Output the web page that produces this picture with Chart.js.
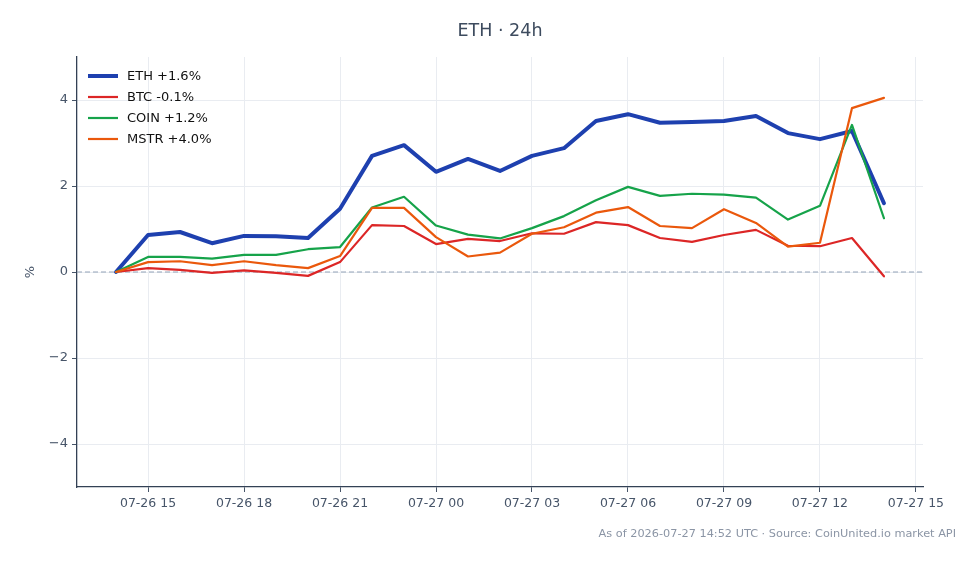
<!DOCTYPE html>
<html>
<head>
<meta charset="utf-8">
<title>ETH · 24h</title>
<script src="https://cdn.jsdelivr.net/npm/chart.js@4.4.1/dist/chart.umd.min.js"></script>
<style>
  html, body { margin: 0; padding: 0; background: #ffffff; }
  #wrap { width: 980px; height: 564px; }
</style>
</head>
<body>
<div id="wrap"><canvas id="myChart" width="980" height="564"></canvas></div>
<script>
// hours since 07-26 00:00 UTC, one point per hour
const hours = [14, 15, 16, 17, 18, 19, 20, 21, 22, 23, 24, 25, 26, 27, 28, 29, 30, 31, 32, 33, 34, 35, 36, 37, 38];

const ethValues  = [0, 0.86, 0.93, 0.67, 0.84, 0.83, 0.79, 1.47, 2.70, 2.95, 2.33, 2.63, 2.35, 2.70, 2.88, 3.51, 3.67, 3.47, 3.49, 3.51, 3.63, 3.23, 3.09, 3.28, 1.60];
const btcValues  = [0, 0.09, 0.05, -0.02, 0.04, -0.02, -0.09, 0.23, 1.09, 1.07, 0.65, 0.77, 0.72, 0.90, 0.89, 1.16, 1.09, 0.79, 0.70, 0.86, 0.98, 0.61, 0.60, 0.79, -0.10];
const coinValues = [0, 0.35, 0.35, 0.31, 0.40, 0.40, 0.53, 0.58, 1.50, 1.75, 1.08, 0.87, 0.78, 1.02, 1.30, 1.67, 1.98, 1.77, 1.82, 1.80, 1.73, 1.22, 1.54, 3.42, 1.25];
const mstrValues = [0, 0.23, 0.25, 0.16, 0.25, 0.16, 0.09, 0.37, 1.49, 1.49, 0.81, 0.36, 0.45, 0.89, 1.04, 1.38, 1.51, 1.07, 1.02, 1.46, 1.14, 0.59, 0.68, 3.81, 4.05];

const seriesLabels = ['ETH +1.6%', 'BTC -0.1%', 'COIN +1.2%', 'MSTR +4.0%'];
const yTicks = [-4, -2, 0, 2, 4];

const titleText = 'ETH · 24h';
const footerText = 'As of 2026-07-27 14:52 UTC · Source: CoinUnited.io market API';

const FONT = "'DejaVu Sans', sans-serif";
const TEXT = '#475569';

function pts(vals) {
  return vals.map((v, i) => ({ x: hours[i], y: v }));
}

function hourLabel(h) {
  const day = 26 + Math.floor(h / 24);
  const hh = h % 24;
  return '07-' + day + ' ' + String(hh).padStart(2, '0');
}

// zero line, title, legend and footer
const extras = {
  id: 'extras',
  beforeDatasetsDraw(chart) {
    const { ctx, chartArea } = chart;
    const y0 = chart.scales.y.getPixelForValue(0);
    ctx.save();
    ctx.strokeStyle = '#94a3b8';
    ctx.lineWidth = 1;
    ctx.setLineDash([5, 3]);
    ctx.beginPath();
    ctx.moveTo(chartArea.left, y0);
    ctx.lineTo(chartArea.right, y0);
    ctx.stroke();
    ctx.restore();
  },
  afterDraw(chart) {
    const { ctx, chartArea } = chart;
    ctx.save();
    ctx.fillStyle = '#3d4b5e';
    ctx.font = '17.5px ' + FONT;
    ctx.textAlign = 'center';
    ctx.textBaseline = 'middle';
    ctx.fillText(titleText, (chartArea.left + chartArea.right) / 2, 31);

    // legend, top left inside the plot
    ctx.font = '13px ' + FONT;
    ctx.textAlign = 'left';
    const ds = chart.data.datasets;
    ds.forEach((d, i) => {
      const y = chartArea.top + 19 + i * 21;
      ctx.strokeStyle = d.borderColor;
      ctx.lineWidth = d.borderWidth;
      ctx.beginPath();
      ctx.moveTo(chartArea.left + 11, y);
      ctx.lineTo(chartArea.left + 41, y);
      ctx.stroke();
      ctx.fillStyle = '#111111';
      ctx.fillText(d.label, chartArea.left + 50, y + 0.5);
    });

    ctx.fillStyle = '#8b95a5';
    ctx.font = '11.3px ' + FONT;
    ctx.textAlign = 'right';
    ctx.fillText(footerText, 956, 534);
    ctx.restore();
  }
};

const ctx = document.getElementById('myChart').getContext('2d');

const data = {
  datasets: [
    { label: seriesLabels[0], data: pts(ethValues),  borderColor: '#1e40af', borderWidth: 4, order: 4 },
    { label: seriesLabels[1], data: pts(btcValues),  borderColor: '#dc2626', borderWidth: 2.2, order: 3 },
    { label: seriesLabels[2], data: pts(coinValues), borderColor: '#16a34a', borderWidth: 2.2, order: 2 },
    { label: seriesLabels[3], data: pts(mstrValues), borderColor: '#ea580c', borderWidth: 2.2, order: 1 }
  ]
};

const config = {
  type: 'line',
  data: data,
  options: {
    responsive: false,
    animation: false,
    events: [],
    layout: { padding: { top: 57, right: 57, bottom: 0, left: 0 } },
    elements: {
      point: { radius: 0 },
      line: { tension: 0, fill: false, borderJoinStyle: 'round', borderCapStyle: 'round' }
    },
    plugins: {
      legend: { display: false },
      title: { display: false },
      tooltip: { enabled: false }
    },
    scales: {
      x: {
        type: 'linear',
        min: 12.78,
        max: 39.22,
        afterFit: (s) => { s.height = 77; },
        grid: { color: '#e9ecf1', tickColor: '#475569', tickLength: 5, lineWidth: 1 },
        border: { color: '#334155', width: 1.3 },
        ticks: {
          stepSize: 3,
          includeBounds: false,
          autoSkip: false,
          maxRotation: 0,
          padding: 4,
          color: TEXT,
          font: { family: FONT, size: 12.5 },
          callback: (v) => hourLabel(v)
        }
      },
      y: {
        min: -5,
        max: 5,
        afterFit: (s) => { s.width = 77; },
        afterBuildTicks: (s) => { s.ticks = yTicks.map(v => ({ value: v })); },
        grid: { color: '#e9ecf1', tickColor: '#475569', tickLength: 5, lineWidth: 1 },
        border: { color: '#334155', width: 1.3 },
        title: {
          display: true,
          text: '%',
          color: TEXT,
          font: { family: FONT, size: 13 },
          padding: { top: 23, bottom: 0 }
        },
        ticks: {
          padding: 4,
          color: TEXT,
          font: { family: FONT, size: 13 },
          callback: (v) => (v < 0 ? '\u2212' + Math.abs(v) : String(v))
        }
      }
    }
  },
  plugins: [extras]
};

const myChart = new Chart(ctx, config);
</script>
</body>
</html>
